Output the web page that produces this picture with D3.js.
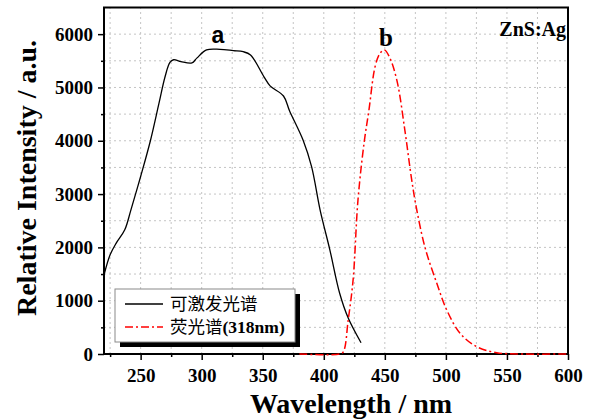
<!DOCTYPE html>
<html>
<head>
<meta charset="utf-8">
<script src="https://cdn.jsdelivr.net/npm/d3@7"></script>
<style>
body { margin: 0; background: #fff; }
svg text { font-family: "Liberation Serif", "Times New Roman", serif; font-weight: bold; fill: #000; }
svg text.sans { font-family: "Liberation Sans", Arial, sans-serif; }
</style>
</head>
<body>
<div id="main"></div>
<script>
// excitation spectrum (curve a)
let excWave = [220, 225, 230, 237, 242, 250, 258, 265, 270, 274, 277, 283, 292, 296, 304, 315, 326, 334, 340, 351, 356, 367, 372, 383, 390, 397, 405, 413, 420, 430.5];
let excInt  = [1480, 1860, 2080, 2330, 2700, 3330, 4000, 4700, 5200, 5470, 5520, 5485, 5460, 5550, 5705, 5715, 5690, 5670, 5610, 5200, 5030, 4840, 4560, 4015, 3515, 2700, 1950, 1140, 675, 212];

// emission spectrum, excited at 318nm (curve b)
let emWave = [380, 413, 416, 420, 424, 428, 433, 437, 442, 446, 449.6, 454, 460, 466.5, 472, 476, 483, 492.5, 500.7, 511.6, 525, 541.6, 563, 600];
let emInt  = [0, 0, 40, 640, 1390, 2890, 3960, 4580, 5390, 5640, 5705, 5560, 5120, 4180, 3265, 2720, 1990, 1330, 825, 390, 140, 25, 0, 0];

let xTicks = [250, 300, 350, 400, 450, 500, 550, 600];
let xMinor = [225, 275, 325, 375, 425, 475, 525, 575];
let yTicks = [0, 1000, 2000, 3000, 4000, 5000, 6000];
let yMinor = [500, 1500, 2500, 3500, 4500, 5500];

let legendNames = ['可激发光谱', '荧光谱'];
let legendSuffix = ['', '(318nm)'];

let x = d3.scaleLinear().domain([220, 600]).range([104, 568]);
let y = d3.scaleLinear().domain([0, 6500]).range([354, 7.5]);

let svg = d3.select('#main').append('svg').attr('width', 594).attr('height', 419);

// dotted grid
let grid = svg.append('g').attr('stroke', '#c4c4c4').attr('stroke-width', 1).attr('stroke-dasharray', '2,3');
grid.selectAll('.gx')
    .data(xTicks.concat(xMinor).filter(d => d < 600))
    .enter().append('line')
    .attr('x1', d => x(d)).attr('x2', d => x(d))
    .attr('y1', y(0)).attr('y2', y(6500));
grid.selectAll('.gy')
    .data(yTicks.concat(yMinor).filter(d => d > 0))
    .enter().append('line')
    .attr('x1', x(220)).attr('x2', x(600))
    .attr('y1', d => y(d)).attr('y2', d => y(d));

// axes
svg.append('g')
    .attr('transform', 'translate(0,' + y(0) + ')')
    .call(d3.axisBottom(x).tickValues(xTicks).tickSize(6).tickPadding(9).tickFormat(d3.format('d')));
svg.append('g')
    .attr('transform', 'translate(0,' + y(0) + ')')
    .call(d3.axisBottom(x).tickValues(xMinor).tickSize(3).tickFormat(''));
svg.append('g')
    .attr('transform', 'translate(' + x(220) + ',0)')
    .call(d3.axisLeft(y).tickValues(yTicks).tickSize(6).tickPadding(5).tickFormat(d3.format('d')));
svg.append('g')
    .attr('transform', 'translate(' + x(220) + ',0)')
    .call(d3.axisLeft(y).tickValues(yMinor).tickSize(3).tickFormat(''));

svg.selectAll('.domain').remove();
svg.selectAll('.tick line').attr('stroke', '#000').attr('stroke-width', 1.5);
svg.selectAll('.tick text')
    .attr('font-family', '"Liberation Serif", serif')
    .attr('font-weight', 'bold')
    .attr('font-size', 19);

// frame
svg.append('rect')
    .attr('x', x(220)).attr('y', y(6500))
    .attr('width', x(600) - x(220)).attr('height', y(0) - y(6500))
    .attr('fill', 'none')
    .attr('stroke', '#000')
    .attr('stroke-width', 2);

// curves
let line = d3.line()
    .x(d => x(d[0]))
    .y(d => y(Math.max(0, d[1])))
    .curve(d3.curveCatmullRom.alpha(0.5));

svg.append('path')
    .datum(excWave.map((w, i) => [w, excInt[i]]))
    .attr('d', line)
    .attr('fill', 'none')
    .attr('stroke', '#000')
    .attr('stroke-width', 1.3);

svg.append('path')
    .datum(emWave.map((w, i) => [w, emInt[i]]))
    .attr('d', line)
    .attr('fill', 'none')
    .attr('stroke', '#ff0000')
    .attr('stroke-width', 1.5)
    .attr('stroke-dasharray', '8,3,2,3');

// axis titles
svg.append('text')
    .attr('x', 351).attr('y', 413)
    .attr('text-anchor', 'middle')
    .attr('font-size', 28)
    .text('Wavelength / nm');

svg.append('text')
    .attr('transform', 'translate(36,178) rotate(-90)')
    .attr('text-anchor', 'middle')
    .attr('font-size', 28)
    .text('Relative Intensity / a.u.');

// labels
svg.append('text')
    .attr('class', 'sans')
    .attr('x', 218).attr('y', 43)
    .attr('text-anchor', 'middle')
    .attr('font-size', 23)
    .text('a');

svg.append('text')
    .attr('x', 386).attr('y', 46)
    .attr('text-anchor', 'middle')
    .attr('font-size', 25)
    .text('b');

svg.append('text')
    .attr('x', 566).attr('y', 36)
    .attr('text-anchor', 'end')
    .attr('font-size', 20)
    .text('ZnS:Ag');

// legend
let legend = svg.append('g').attr('transform', 'translate(115,289)');
legend.append('rect')
    .attr('x', 5).attr('y', 5).attr('width', 180).attr('height', 53)
    .attr('fill', '#000');
legend.append('rect')
    .attr('width', 180).attr('height', 53)
    .attr('fill', '#fff')
    .attr('stroke', '#8a8a8a');

let styles = [
    { color: '#000', dash: null, width: 1.3 },
    { color: '#ff0000', dash: '8,3,2,3', width: 1.5 }
];

legendNames.forEach((name, i) => {
    let ly = 15 + i * 23;
    legend.append('line')
        .attr('x1', 10).attr('x2', 48)
        .attr('y1', ly).attr('y2', ly)
        .attr('stroke', styles[i].color)
        .attr('stroke-width', styles[i].width)
        .attr('stroke-dasharray', styles[i].dash);
    let t = legend.append('text')
        .attr('x', 55).attr('y', ly + 6)
        .attr('font-size', 17.5);
    t.append('tspan')
        .style('font-family', '"Noto Sans CJK SC", sans-serif')
        .style('font-weight', 'normal')
        .text(name);
    t.append('tspan').text(legendSuffix[i]);
});
</script>
</body>
</html>
